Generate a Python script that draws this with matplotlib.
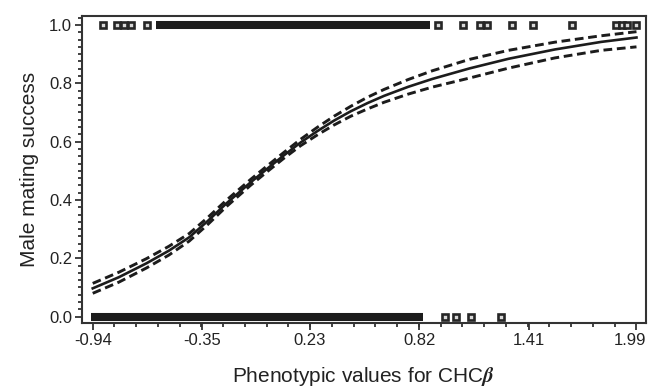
import matplotlib
matplotlib.use('Agg')
import matplotlib.pyplot as plt
import matplotlib.transforms as mtransforms
from matplotlib.ticker import MultipleLocator, FixedLocator, FormatStrFormatter

plt.rcParams['font.family'] = ['Liberation Sans', 'DejaVu Sans']
plt.rcParams['mathtext.fontset'] = 'stix'

# fitted curve and 95% limits
xfit = [-0.94, -0.80, -0.65, -0.53, -0.42, -0.32, -0.22, -0.09, 0.00, 0.09, 0.18, 0.27, 0.36, 0.45, 0.54, 0.63, 0.76, 0.89, 1.09, 1.30, 1.55, 1.80, 1.99]
pfit = [0.097, 0.135, 0.183, 0.226, 0.272, 0.328, 0.388, 0.460, 0.507, 0.553, 0.597, 0.636, 0.672, 0.704, 0.732, 0.757, 0.788, 0.815, 0.851, 0.884, 0.916, 0.942, 0.957]
pup = [0.114, 0.152, 0.199, 0.241, 0.285, 0.340, 0.399, 0.470, 0.517, 0.563, 0.608, 0.649, 0.687, 0.721, 0.752, 0.779, 0.813, 0.843, 0.882, 0.913, 0.941, 0.963, 0.977]
plo = [0.080, 0.118, 0.167, 0.211, 0.259, 0.316, 0.377, 0.450, 0.497, 0.543, 0.586, 0.623, 0.657, 0.687, 0.712, 0.735, 0.763, 0.787, 0.818, 0.852, 0.887, 0.913, 0.925]

# observed males: isolated points and the dense runs of points
succ_x = [-0.884, -0.809, -0.771, -0.733, -0.649, 0.92, 1.054, 1.146, 1.183, 1.32, 1.43, 1.64, 1.88, 1.91, 1.94, 1.99]
succ_run = (-0.60, 0.88)
fail_x = [0.96, 1.02, 1.10, 1.26]
fail_run = (-0.95, 0.84)

xticks = [-0.94, -0.35, 0.23, 0.82, 1.41, 1.99]
xticklabels = ['-0.94', '-0.35', '0.23', '0.82', '1.41', '1.99']

fig = plt.figure(figsize=(6.49, 3.91), dpi=100)
ax = fig.add_axes([0.126, 0.173, 0.869, 0.787])

dark = '#1c1c1c'
ax.hlines(1.0, succ_run[0], succ_run[1], color=dark, lw=5.8, zorder=3)
ax.hlines(0.0, fail_run[0], fail_run[1], color=dark, lw=5.8, zorder=3)
ax.plot(succ_x, [1.0]*len(succ_x), 's', ms=4.8, mfc='#d8d8d8', mec='#262626', mew=1.9, zorder=4)
ax.plot(fail_x, [0.0]*len(fail_x), 's', ms=4.8, mfc='#d8d8d8', mec='#262626', mew=1.9, zorder=4)

ax.plot(xfit, pfit, '-', color=dark, lw=1.9)
ax.plot(xfit, pup, '--', color=dark, lw=2.1, dashes=(3, 1.6))
ax.plot(xfit, plo, '--', color=dark, lw=2.1, dashes=(3, 1.6))

ax.set_xlim(-0.999, 2.04)
ax.set_ylim(-0.023, 1.032)
ax.set_xticks(xticks)
ax.set_xticklabels(xticklabels)
step = (xticks[-1] - xticks[0]) / 25
ax.xaxis.set_minor_locator(FixedLocator([xticks[0] + i * step for i in range(26)]))
ax.yaxis.set_major_locator(MultipleLocator(0.2))
ax.yaxis.set_minor_locator(MultipleLocator(0.025))
ax.yaxis.set_major_formatter(FormatStrFormatter('%.1f'))

for s in ax.spines.values():
    s.set_linewidth(1.5)
    s.set_color('#333333')
ax.tick_params(which='major', length=5, width=1.3, color='#333333', labelsize=12, labelcolor='#222222', pad=2)
ax.tick_params(which='minor', length=3, width=1.3, color='#333333')

# last label sits against the right edge, nudge it in a little
last = ax.get_xticklabels()[-1]
last.set_transform(last.get_transform() + mtransforms.ScaledTranslation(-5/72, 0, fig.dpi_scale_trans))

ax.set_ylabel('Male mating success', fontsize=15, color='#222222', labelpad=7)
ax.set_xlabel(r'Phenotypic values for CHC$\boldsymbol{\beta}$', fontsize=15, color='#222222', labelpad=12)

fig.savefig('out.png', dpi=100)
